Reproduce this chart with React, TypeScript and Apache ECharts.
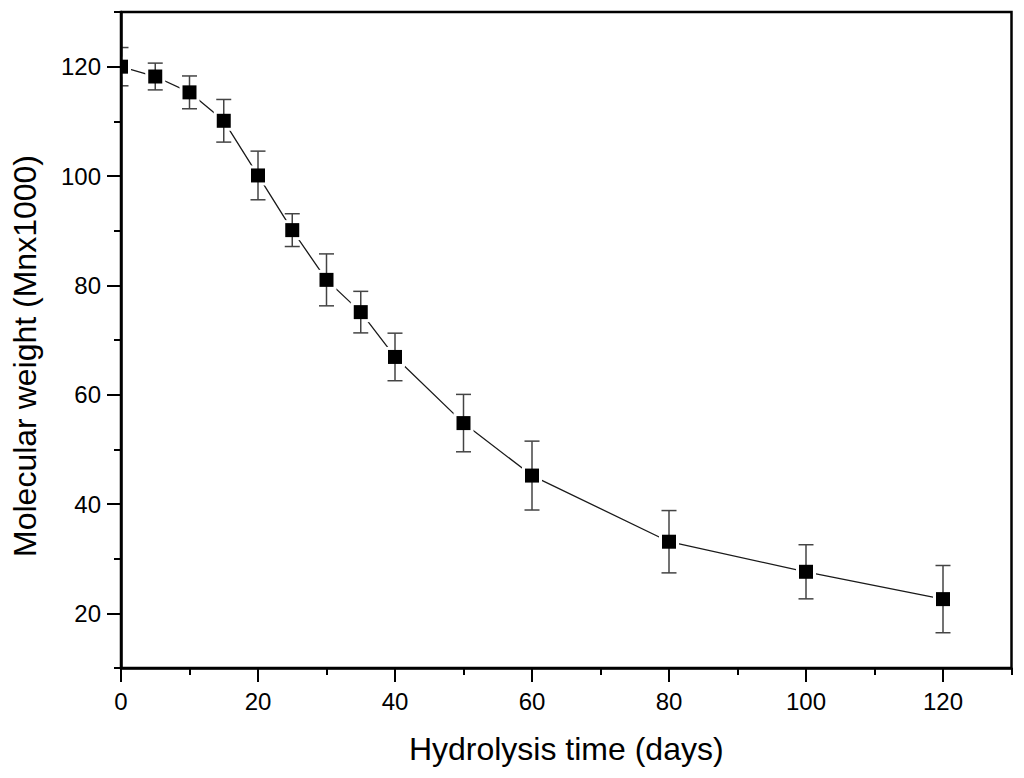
import React, { useEffect, useRef } from "react";
import * as echarts from "echarts";

const days = [0, 5, 10, 15, 20, 25, 30, 35, 40, 50, 60, 80, 100, 120];
const molecularWeight = [120, 118.2, 115.3, 110.1, 100.1, 90.1, 81, 75.1, 66.9, 54.8, 45.2, 33.1, 27.6, 22.6];
const errors = [3.5, 2.45, 3, 3.9, 4.45, 3, 4.75, 3.8, 4.35, 5.25, 6.3, 5.7, 4.95, 6.15];

const xMajorTicks = [0, 20, 40, 60, 80, 100, 120];
const xMinorTicks = [10, 30, 50, 70, 90, 110, 130];
const yMajorTicks = [20, 40, 60, 80, 100, 120];
const yMinorTicks = [10, 30, 50, 70, 90, 110, 130];

const FONT = '"Liberation Sans", Arial, Helvetica, sans-serif';

export default function App() {
  const ref = useRef<HTMLDivElement>(null);

  useEffect(() => {
    document.body.style.margin = "0";
    if (!ref.current) return;
    const chart = echarts.init(ref.current, null, { renderer: "svg" });

    const majorAxisX = {
      type: "value",
      min: 0,
      max: 130,
      position: "bottom",
      z: 10,
      axisLine: { show: true, onZero: false, lineStyle: { color: "#000", width: 2.5 } },
      axisTick: { show: true, customValues: xMajorTicks, length: 14, lineStyle: { color: "#000", width: 2 } },
      axisLabel: { show: true, customValues: xMajorTicks, fontSize: 24, margin: 21, color: "#000", fontFamily: FONT },
      splitLine: { show: false },
      name: "Hydrolysis time (days)",
      nameLocation: "middle",
      nameGap: 65,
      nameTextStyle: { fontSize: 32, color: "#000", fontFamily: FONT },
    };
    const minorAxisX = {
      type: "value",
      min: 0,
      max: 130,
      position: "bottom",
      z: 10,
      axisLine: { show: false, onZero: false },
      axisTick: { show: true, customValues: xMinorTicks, length: 7, lineStyle: { color: "#000", width: 2 } },
      axisLabel: { show: false },
      splitLine: { show: false },
    };
    const majorAxisY = {
      type: "value",
      min: 10,
      max: 130,
      position: "left",
      z: 10,
      axisLine: { show: true, onZero: false, lineStyle: { color: "#000", width: 2.5 } },
      axisTick: { show: true, customValues: yMajorTicks, length: 14, lineStyle: { color: "#000", width: 2 } },
      axisLabel: { show: true, customValues: yMajorTicks, fontSize: 24, margin: 20, color: "#000", fontFamily: FONT },
      splitLine: { show: false },
      name: "Molecular weight (Mnx1000)",
      nameLocation: "middle",
      nameGap: 80,
      nameTextStyle: { fontSize: 32, color: "#000", fontFamily: FONT, padding: [0, 32, 0, 0] },
    };
    const minorAxisY = {
      type: "value",
      min: 10,
      max: 130,
      position: "left",
      z: 10,
      axisLine: { show: false, onZero: false },
      axisTick: { show: true, customValues: yMinorTicks, length: 7, lineStyle: { color: "#000", width: 2 } },
      axisLabel: { show: false },
      splitLine: { show: false },
    };

    const lineData = days.map((d, i) => [d, molecularWeight[i]]);
    const pointData = days.map((d, i) => [d, molecularWeight[i], errors[i]]);

    chart.setOption({
      animation: false,
      backgroundColor: "#fff",
      grid: {
        left: 121,
        right: 12.5,
        top: 12,
        bottom: 110,
        show: true,
        borderColor: "#000",
        borderWidth: 2.5,
        backgroundColor: "transparent",
        containLabel: false,
        outerBoundsMode: "none",
      },
      xAxis: [majorAxisX, minorAxisX],
      yAxis: [majorAxisY, minorAxisY],
      series: [
        {
          type: "line",
          xAxisIndex: 0,
          yAxisIndex: 0,
          data: lineData,
          symbol: "none",
          lineStyle: { color: "#1a1a1a", width: 1.3 },
          z: 2,
          clip: true,
        },
        {
          type: "custom",
          xAxisIndex: 0,
          yAxisIndex: 0,
          data: pointData,
          encode: { x: 0, y: 1 },
          z: 3,
          clip: true,
          renderItem: (params: any, api: any) => {
            const x = api.value(0);
            const y = api.value(1);
            const e = api.value(2);
            const c = api.coord([x, y]);
            const top = api.coord([x, y + e]);
            const bot = api.coord([x, y - e]);
            const s = 14;
            const halo = 20;
            const cap = 7.5;
            const barStyle = { stroke: "#444", lineWidth: 1.5 };
            return {
              type: "group",
              children: [
                { type: "rect", shape: { x: c[0] - halo / 2, y: c[1] - halo / 2, width: halo, height: halo }, style: { fill: "#fff" } },
                { type: "line", shape: { x1: c[0], y1: top[1], x2: c[0], y2: bot[1] }, style: barStyle },
                { type: "line", shape: { x1: c[0] - cap, y1: top[1], x2: c[0] + cap, y2: top[1] }, style: barStyle },
                { type: "line", shape: { x1: c[0] - cap, y1: bot[1], x2: c[0] + cap, y2: bot[1] }, style: barStyle },
                { type: "rect", shape: { x: c[0] - s / 2, y: c[1] - s / 2, width: s, height: s }, style: { fill: "#000" } },
              ],
            };
          },
        },
      ],
    });

    return () => chart.dispose();
  }, []);

  return <div ref={ref} style={{ width: 1024, height: 778 }} />;
}
